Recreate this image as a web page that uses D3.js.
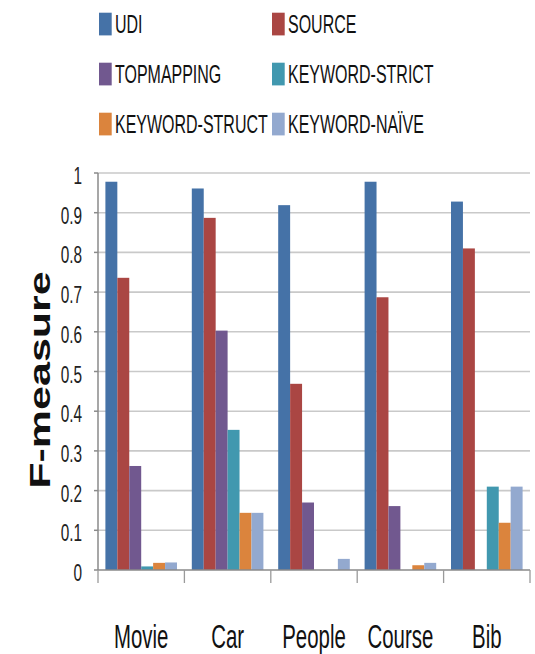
<!DOCTYPE html>
<html><head><meta charset="utf-8">
<script src="https://cdn.jsdelivr.net/npm/d3@7"></script>
<style>body{margin:0;background:#fff}svg{display:block}</style>
</head><body>
<svg id="chart" width="535" height="654"></svg>
<script>
const categories = ["Movie", "Car", "People", "Course", "Bib"];
const seriesNames = ["UDI", "SOURCE", "TOPMAPPING", "KEYWORD-STRICT", "KEYWORD-STRUCT", "KEYWORD-NAÏVE"];
const udi           = [0.978, 0.961, 0.919, 0.978, 0.928];
const source        = [0.736, 0.887, 0.469, 0.687, 0.810];
const topmapping    = [0.262, 0.603, 0.170, 0.161, 0.000];
const keywordStrict = [0.009, 0.353, 0.000, 0.000, 0.210];
const keywordStruct = [0.018, 0.144, 0.000, 0.012, 0.119];
const keywordNaive  = [0.019, 0.144, 0.028, 0.018, 0.210];
const seriesColors = ["#4572A7", "#AA4643", "#71588F", "#4198AF", "#DB843D", "#93A9CF"];
const yTickValues = [0, 0.1, 0.2, 0.3, 0.4, 0.5, 0.6, 0.7, 0.8, 0.9, 1];
const yTickLabels = ["0", "0.1", "0.2", "0.3", "0.4", "0.5", "0.6", "0.7", "0.8", "0.9", "1"];
const yTitle = "F-measure";

const seriesValues = [udi, source, topmapping, keywordStrict, keywordStruct, keywordNaive];
const FONT = "'Liberation Sans', Arial, sans-serif";
const SX = 0.62; // horizontal squeeze of text seen in the reference

const svg = d3.select("#chart");
const plot = {left: 98, right: 530, top: 173, bottom: 570};

const x0 = d3.scaleBand().domain(categories).range([plot.left, plot.right]).paddingInner(0).paddingOuter(0);
const x1 = d3.scaleBand().domain(seriesNames).range([0, x0.bandwidth()]).paddingInner(0).paddingOuter(0.62);
const y = d3.scaleLinear().domain([0, 1]).range([plot.bottom, plot.top]);

// gridlines
svg.append("g").selectAll("line").data(yTickValues.filter(v => v > 0)).join("line")
  .attr("x1", plot.left).attr("x2", plot.right)
  .attr("y1", d => y(d)).attr("y2", d => y(d))
  .attr("stroke", "#c9c9c9").attr("stroke-width", 1.6);

// bars
const groups = svg.append("g").selectAll("g").data(categories).join("g")
  .attr("transform", d => `translate(${x0(d)},0)`);
groups.selectAll("rect").data((c, ci) => seriesNames.map((s, si) => ({s, si, v: seriesValues[si][ci]})))
  .join("rect")
  .attr("x", d => x1(d.s))
  .attr("width", x1.bandwidth())
  .attr("y", d => y(d.v))
  .attr("height", d => y(0) - y(d.v))
  .attr("fill", d => seriesColors[d.si]);

// y axis line and ticks
svg.append("line").attr("x1", plot.left).attr("x2", plot.left).attr("y1", plot.top).attr("y2", plot.bottom)
  .attr("stroke", "#8a8a8a").attr("stroke-width", 1.5);
svg.append("g").selectAll("line").data(yTickValues).join("line")
  .attr("x1", plot.left - 4).attr("x2", plot.left)
  .attr("y1", d => y(d)).attr("y2", d => y(d))
  .attr("stroke", "#8a8a8a").attr("stroke-width", 1.5);
svg.append("g").selectAll("text").data(yTickValues).join("text")
  .attr("transform", d => `translate(82,${y(d) + 11}) scale(0.64,1)`)
  .attr("text-anchor", "end")
  .attr("font-family", FONT).attr("font-size", 24).attr("fill", "#222")
  .text((d, i) => yTickLabels[i]);

// x axis line and ticks
svg.append("line").attr("x1", plot.left).attr("x2", plot.right).attr("y1", plot.bottom).attr("y2", plot.bottom)
  .attr("stroke", "#8a8a8a").attr("stroke-width", 1.5);
const boundaries = categories.map(c => x0(c)).concat([x0(categories[categories.length - 1]) + x0.bandwidth()]);
svg.append("g").selectAll("line").data(boundaries).join("line")
  .attr("x1", d => d).attr("x2", d => d)
  .attr("y1", plot.bottom).attr("y2", plot.bottom + 13)
  .attr("stroke", "#9a9a9a").attr("stroke-width", 1.3);
svg.append("g").selectAll("text").data(categories).join("text")
  .attr("transform", d => `translate(${x0(d) + x0.bandwidth() / 2},648) scale(0.6,1)`)
  .attr("text-anchor", "middle")
  .attr("font-family", FONT).attr("font-size", 34).attr("fill", "#111")
  .text(d => d);

// y title
svg.append("text")
  .attr("transform", `translate(50,380) scale(0.7,1) rotate(-90)`)
  .attr("text-anchor", "middle")
  .attr("font-family", FONT).attr("font-weight", "bold").attr("font-size", 43).attr("fill", "#111")
  .text(yTitle);

// legend
const legCols = [99, 272];
const legRows = [24, 74, 124];
const leg = svg.append("g").selectAll("g").data(seriesNames).join("g")
  .attr("transform", (d, i) => `translate(${legCols[i % 2]},${legRows[Math.floor(i / 2)]})`);
leg.append("rect").attr("x", 0).attr("y", -11.3).attr("width", 12.7).attr("height", 22.7)
  .attr("fill", (d, i) => seriesColors[i]);
leg.append("text")
  .attr("transform", "translate(16,9) scale(0.64,1)")
  .attr("font-family", FONT).attr("font-size", 25).attr("fill", "#111")
  .text(d => d);
</script>
</body></html>
